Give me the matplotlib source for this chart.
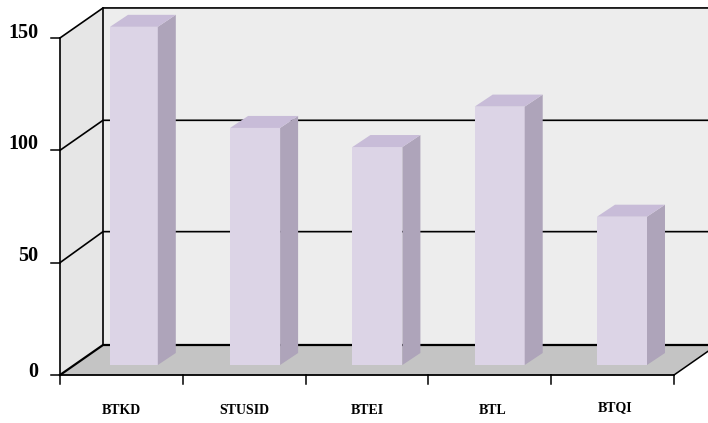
#!/usr/bin/env python3
import matplotlib
matplotlib.use('Agg')
import matplotlib.pyplot as plt
from matplotlib.patches import Polygon

categories = ['BTKD', 'STUSID', 'BTEI', 'BTL', 'BTQI']
values = [150.5, 105.5, 97, 115, 66]
y_ticks = [0, 50, 100, 150]

# Pseudo-3D layout, in pixels
X0, X1 = 60, 674
Y0 = 375
PX_PER_UNIT = 2.247
DX, DY = 43, 30
CAT_W = (X1 - X0) / len(categories)
BAR_BASE = 10
BAR_DX, BAR_DY = 18, 12

WALL_SIDE = '#e6e6e6'
WALL_BACK = '#ededed'
FLOOR = '#c4c4c4'
BAR_FRONT = '#dcd4e6'
BAR_SIDE = '#aea4ba'
BAR_TOP = '#c8bcd8'


def val_y(v):
    return Y0 - v * PX_PER_UNIT


fig = plt.figure(figsize=(7.08, 4.23), dpi=100)
ax = fig.add_axes([0, 0, 1, 1])
ax.set_xlim(0, 708)
ax.set_ylim(423, 0)
ax.axis('off')

top = val_y(max(y_ticks))

# Walls and floor
ax.add_patch(Polygon([(X0, Y0), (X0, top), (X0 + DX, top - DY), (X0 + DX, Y0 - DY)],
                     fc=WALL_SIDE, ec='none', zorder=1))
ax.add_patch(Polygon([(X0 + DX, Y0 - DY), (X0 + DX, top - DY), (X1 + DX, top - DY), (X1 + DX, Y0 - DY)],
                     fc=WALL_BACK, ec='none', zorder=1))
ax.add_patch(Polygon([(X0, Y0), (X0 + DX, Y0 - DY), (X1 + DX, Y0 - DY), (X1, Y0)],
                     fc=FLOOR, ec='none', zorder=1))

# Gridlines
tick_label_dy = {0: -3, 50: -7, 100: -6, 150: -5}
for t in y_ticks:
    y = val_y(t)
    back_y = y - DY - (1 if t == 50 else 0)
    ax.plot([X0, X0 + DX, X1 + DX], [y, back_y, back_y], color='black', lw=1.6 if t == 0 else 1.2,
            zorder=2, solid_joinstyle='miter')
    ax.plot([X0 - 9, X0], [y, y], color='black', lw=1.1, zorder=2)
    ax.text(38, y + tick_label_dy[t], str(t), ha='right', va='center', family='Liberation Serif',
            fontweight='bold', fontsize=14.5, color='#000000')

# Axis lines
ax.plot([X0, X0], [top, Y0], color='black', lw=1.2, zorder=2)
ax.plot([X0 + DX, X0 + DX], [top - DY, Y0 - DY], color='black', lw=1.2, zorder=2)
ax.plot([X0, X1], [Y0, Y0], color='black', lw=1.3, zorder=2)
ax.plot([X1, X1 + DX], [Y0, Y0 - DY], color='black', lw=1.1, zorder=2)
for i in range(len(categories) + 1):
    x = X0 + i * CAT_W
    ax.plot([x, x], [Y0, Y0 + 9], color='black', lw=1.1, zorder=2)

# Bars
for i, v in enumerate(values):
    left = max(107.8 + 122.3 * i, 110)
    right = 107.8 + 122.3 * i + 50
    base = Y0 - BAR_BASE
    t = base - v * PX_PER_UNIT
    ax.add_patch(Polygon([(left, base), (left, t), (right, t), (right, base)],
                         fc=BAR_FRONT, ec='none', zorder=3))
    ax.add_patch(Polygon([(right, base), (right, t), (right + BAR_DX, t - BAR_DY), (right + BAR_DX, base - BAR_DY)],
                         fc=BAR_SIDE, ec='none', zorder=3))
    ax.add_patch(Polygon([(left, t), (left + BAR_DX, t - BAR_DY), (right + BAR_DX, t - BAR_DY), (right, t)],
                         fc=BAR_TOP, ec='none', zorder=3))

# Category labels
label_dx = [0, 0, 0, 3, 3]
label_y = [410, 410, 410, 410, 408]
for i, c in enumerate(categories):
    ax.text(X0 + (i + 0.5) * CAT_W + label_dx[i], label_y[i], c, ha='center', va='center',
            family='Liberation Serif', fontweight='bold', fontsize=10, color='#000000')

fig.savefig('out.png', dpi=100)
